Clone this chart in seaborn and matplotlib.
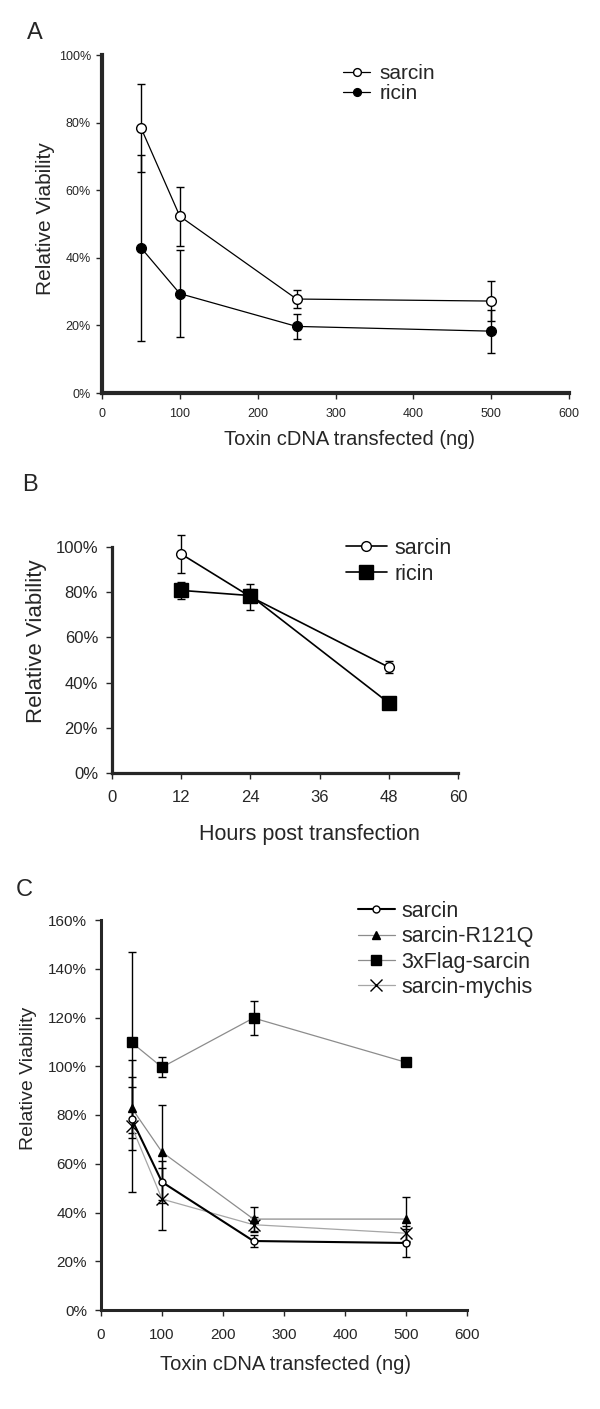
import matplotlib
matplotlib.use("Agg")
import matplotlib.pyplot as plt
from matplotlib.ticker import MultipleLocator, PercentFormatter
import pandas as pd
import seaborn as sns

# Panel A: viability vs toxin cDNA dose
DOSE = [50, 100, 250, 500]
A_SARCIN = [78.5, 52.3, 27.8, 27.2]
A_SARCIN_ERR = [13.0, 8.7, 2.6, 5.8]
A_RICIN = [43.0, 29.4, 19.7, 18.3]
A_RICIN_ERR = [27.5, 12.8, 3.6, 6.4]

# Panel B: viability vs hours post transfection
HOURS = [12, 24, 48]
B_SARCIN = [96.9, 78.0, 46.8]
B_SARCIN_ERR = [8.6, 5.8, 2.7]
B_RICIN = [80.8, 78.5, 31.0]
B_RICIN_ERR = [3.6, 3.0, 2.2]

# Panel C: sarcin variants vs dose
C_SARCIN = [78.5, 52.5, 28.3, 27.5]
C_SARCIN_ERR = [13.0, 8.6, 2.5, 5.8]
C_R121Q = [83.0, 64.8, 37.3, 37.3]
C_R121Q_ERR = [12.4, 19.5, 4.8, 9.2]
C_FLAG = [109.8, 99.6, 119.8, 101.6]
C_FLAG_ERR = [37.0, 4.2, 6.8, 0.8]
C_MYCHIS = [75.5, 45.5, 35.0, 31.5]
C_MYCHIS_ERR = [27.2, 12.6, 3.0, 3.0]

W, H = 600, 1409


def series(ax, x, y, err, label, color="black", lw=0.9, marker="o", ms=7,
           mfc="black", capsize=3.2, z=3):
    ax.errorbar(x, y, yerr=err, fmt="none", ecolor="black", elinewidth=1,
                capsize=capsize, capthick=1, zorder=z, clip_on=False)
    df = pd.DataFrame({"x": x, "y": y})
    sns.lineplot(data=df, x="x", y="y", ax=ax, color=color, linewidth=lw,
                 marker=marker, markersize=ms, markerfacecolor=mfc,
                 markeredgecolor="black", markeredgewidth=1, label=label,
                 estimator=None, sort=False, zorder=z + 1, clip_on=False)
    return ax.lines[-1]


def style_axes(ax, xmax, xstep, ymax, spine_lw, tick_fs, xpad, ypad):
    ax.set_xlim(0, xmax)
    ax.set_ylim(0, ymax)
    ax.xaxis.set_major_locator(MultipleLocator(xstep))
    ax.yaxis.set_major_locator(MultipleLocator(20))
    ax.yaxis.set_major_formatter(PercentFormatter(100, decimals=0))
    for s in ("top", "right"):
        ax.spines[s].set_visible(False)
    ax.spines["left"].set_linewidth(spine_lw)
    ax.spines["bottom"].set_linewidth(spine_lw)
    ax.tick_params(axis="x", direction="out", length=4, width=1, labelsize=tick_fs, pad=xpad)
    ax.tick_params(axis="y", direction="out", length=4, width=1, labelsize=tick_fs, pad=ypad)
    ax.set_facecolor("white")


def axes_at(fig, left, right, top, bottom):
    return fig.add_axes([left / W, 1 - bottom / H, (right - left) / W, (bottom - top) / H])


def main():
    sns.set_theme(style="ticks")
    plt.rcParams["font.family"] = ["Liberation Sans", "DejaVu Sans"]

    fig = plt.figure(figsize=(6, 14.09), dpi=100)
    fig.patch.set_facecolor("white")

    # ---- A ----
    ax = axes_at(fig, 102, 569, 55, 393)
    h1 = series(ax, DOSE, A_SARCIN, A_SARCIN_ERR, "sarcin", mfc="white", ms=7)
    h2 = series(ax, DOSE, A_RICIN, A_RICIN_ERR, "ricin", ms=7)
    style_axes(ax, 600, 100, 100, 3.0, 9, 7, 4)
    ax.set_xlabel("Toxin cDNA transfected (ng)", fontsize=14.5, va="center")
    ax.xaxis.set_label_coords(0.531, -0.139)
    ax.set_ylabel("Relative Viability", fontsize=15, va="center")
    ax.yaxis.set_label_coords(-0.12, 0.515)
    ax.legend([h1, h2], ["sarcin", "ricin"], loc="upper left",
              bbox_to_anchor=(0.516, 0.973), frameon=False, fontsize=15,
              borderpad=0, borderaxespad=0, handlelength=1.3, handletextpad=0.45,
              labelspacing=0.05, markerscale=0.8)
    fig.text(35 / W, 1 - 33 / H, "A", fontsize=17, ha="center", va="center")

    # ---- B ----
    ax = axes_at(fig, 112, 458, 547, 773)
    h1 = series(ax, HOURS, B_SARCIN, B_SARCIN_ERR, "sarcin", lw=1.2, mfc="white",
                ms=7, capsize=2.8)
    h2 = series(ax, HOURS, B_RICIN, B_RICIN_ERR, "ricin", lw=1.2, marker="s",
                ms=9.5, capsize=2.8)
    style_axes(ax, 60, 12, 100, 2.3, 12, 8, 6)
    ax.set_xlabel("Hours post transfection", fontsize=15.5, va="center")
    ax.xaxis.set_label_coords(0.572, -0.27)
    ax.set_ylabel("Relative Viability", fontsize=16, va="center")
    ax.yaxis.set_label_coords(-0.218, 0.584)
    ax.legend([h1, h2], ["sarcin", "ricin"], loc="upper left",
              bbox_to_anchor=(0.676, 1.042), frameon=False, fontsize=15.5,
              borderpad=0, borderaxespad=0, handlelength=1.9, handletextpad=0.35,
              labelspacing=0.25)
    fig.text(30 / W, 1 - 485 / H, "B", fontsize=17, ha="center", va="center")

    # ---- C ----
    ax = axes_at(fig, 101, 467, 920, 1310)
    h1 = series(ax, DOSE, C_SARCIN, C_SARCIN_ERR, "sarcin", lw=1.5, mfc="white",
                ms=5, capsize=3, z=6)
    h2 = series(ax, DOSE, C_R121Q, C_R121Q_ERR, "sarcin-R121Q", color="#8c8c8c",
                marker="^", ms=6, capsize=3, z=4)
    h3 = series(ax, DOSE, C_FLAG, C_FLAG_ERR, "3xFlag-sarcin", color="#8c8c8c",
                marker="s", ms=7, capsize=3, z=4)
    h4 = series(ax, DOSE, C_MYCHIS, C_MYCHIS_ERR, "sarcin-mychis", color="#a6a6a6",
                marker="x", ms=9, capsize=3, z=3)
    style_axes(ax, 600, 100, 160, 2.2, 11, 9, 6)
    ax.set_xlabel("Toxin cDNA transfected (ng)", fontsize=14.5, va="center")
    ax.xaxis.set_label_coords(0.503, -0.141)
    ax.set_ylabel("Relative Viability", fontsize=14, va="center")
    ax.yaxis.set_label_coords(-0.197, 0.595)
    ax.legend([h1, h2, h3, h4],
              ["sarcin", "sarcin-R121Q", "3xFlag-sarcin", "sarcin-mychis"],
              loc="upper left", bbox_to_anchor=(0.702, 1.049), frameon=False,
              fontsize=15.5, borderpad=0, borderaxespad=0, handlelength=1.7,
              handletextpad=0.3, labelspacing=0.2)
    fig.text(24 / W, 1 - 890 / H, "C", fontsize=17, ha="center", va="center")

    fig.savefig("out.png", dpi=100, facecolor="white")
    plt.close(fig)


if __name__ == "__main__":
    main()
